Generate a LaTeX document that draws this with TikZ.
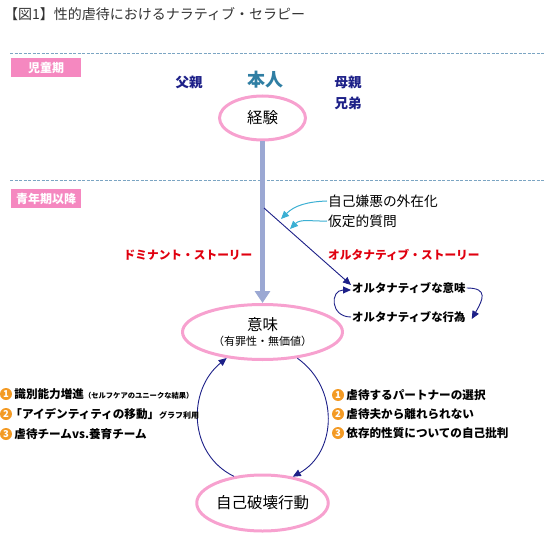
\documentclass[tikz,border=0pt]{standalone}
\usepackage{fontspec}
\setmainfont{Noto Sans CJK JP}
\usetikzlibrary{arrows.meta,positioning,shapes.geometric}
\definecolor{navyline}{HTML}{1D2088}
\definecolor{storyred}{HTML}{E0000F}
\definecolor{ovalpink}{HTML}{F7A1CF}
\definecolor{tagpink}{HTML}{F588C0}
\definecolor{mainblue}{HTML}{9BA8D3}
\definecolor{hintcyan}{HTML}{3BAFD3}
\definecolor{numorange}{HTML}{F39A24}
\definecolor{sepblue}{HTML}{7BA5C3}
\definecolor{selfteal}{HTML}{2F7EA3}
\definecolor{titlegray}{HTML}{333333}
\newcommand\fsz[1]{\fontsize{#1}{#1}\selectfont}
\newcommand\numitem[4]
{
\node[numdot] (#1) at (#2) {#3};
\node[listtext,right=2pt of #1] (#1t) {#4};
}

\begin{document}
\begin{tikzpicture}[x=1pt,y=1pt, line join=round,
  oval/.style={ellipse, draw=ovalpink, line width=3pt, inner sep=0pt, font=\fsz{15.5}},
  periodtag/.style={fill=tagpink, text=white, font=\bfseries\fsz{12}, minimum width=70pt, minimum height=19pt, inner sep=0pt},
  kin/.style={text=navyline, font=\bfseries\fsz{13.5}, inner sep=0pt},
  story/.style={text=storyred, font=\bfseries\fsz{11.7}, inner sep=0pt},
  altline/.style={font=\bfseries\fsz{11.4}, inner sep=1pt},
  hinttext/.style={font=\fsz{13.7}, inner sep=1pt},
  numdot/.style={circle, fill=numorange, text=white, font=\bfseries\fsz{9.5}, inner sep=0pt, minimum size=12pt},
  listtext/.style={font=\bfseries\fsz{11.6}, inner sep=0pt},
  sepline/.style={sepblue, dash pattern=on 3pt off 1.5pt, line width=0.7pt},
  navyarrow/.style={navyline, line width=0.9pt, -{Triangle[length=8pt,width=7pt]}},
  cyanarrow/.style={hintcyan, line width=1pt, -{Triangle[length=8pt,width=7pt]}},
  bigarrow/.style={mainblue, line width=5pt, -{Triangle[length=12pt,width=15pt]}}]
\useasboundingbox (0,0) rectangle (545,-534);
\node[anchor=west, text=titlegray, font=\fsz{14}, inner sep=0pt] (title) at (4,-14) {【図1】性的虐待におけるナラティブ・セラピー};
\draw[sepline] (10,-53) -- (545,-53);
\draw[sepline] (10,-180) -- (545,-180);
\node[periodtag, anchor=west] (child) at (11,-67.5) {児童期};
\node[periodtag, anchor=west] (youth) at (11,-199) {青年期以降};
\node[kin] (father) at (189,-82) {父親};
\node[kin, text=selfteal, font=\bfseries\fsz{18}] (hero) at (265,-80) {本人};
\node[kin] (mother) at (348,-82) {母親};
\node[kin] (siblings) at (348,-103) {兄弟};
\node[oval, minimum width=86pt, minimum height=44pt] (exp) at (262.5,-118) {経験};
\node[oval, minimum width=160pt, minimum height=55pt, align=center] (mean) at (262.5,-332) {意味\\{\fsz{11}（有罪性・無価値）}};
\node[oval, minimum width=124pt, minimum height=56pt] (self) at (262.5,-503) {自己破壊行動};
\draw[bigarrow] (exp) -- (mean);
\node[story] (dom) at (188,-255) {ドミナント・ストーリー};
\node[story, anchor=west] (alt) at (328,-255) {オルタナティブ・ストーリー};
\node[hinttext, anchor=west] (hate) at (327,-201) {自己嫌悪の外在化};
\node[hinttext, anchor=west] (hypo) at (327,-221) {仮定的質問};
\node[altline, anchor=west] (altmean) at (351,-288) {オルタナティブな意味};
\node[altline, anchor=west] (altact) at (351,-317) {オルタナティブな行為};
\coordinate (turn) at (264,-208);
\coordinate (hatetip) at (281,-219);
\coordinate (hypotip) at (290,-229);
\draw[navyarrow] (turn) -- ([yshift=3pt]altmean.west);
\draw[cyanarrow] (hate.west) to[out=182,in=45] (hatetip);
\draw[cyanarrow] (hypo.west) to[out=182,in=45] (hypotip);
\draw[navyarrow] (altact.west) to[out=180,in=180,looseness=2] ([yshift=-2pt]altmean.west);
\draw[navyarrow] (altmean.east) to[out=0,in=60,looseness=1.8] ([xshift=5pt,yshift=-2pt]altact.east);
\draw[navyarrow] (self.137) to[out=154,in=219,looseness=1.1] (mean.216);
\draw[navyarrow] (mean.323) to[out=-35,in=29,looseness=1.1] (self.41);
\numitem{l1}{6,-394}{1}{識別能力増進{\fsz{7.3}（セルフケアのユニークな結果）}}
\numitem{l2}{6,-414}{2}{\kern-4pt「アイデンティティの移動」{\fsz{8}グラフ利用}}
\numitem{l3}{6,-434}{3}{虐待チームvs.養育チーム}
\numitem{r1}{338,-395}{1}{虐待するパートナーの選択}
\numitem{r2}{338,-414}{2}{虐待夫から離れられない}
\numitem{r3}{338,-433}{3}{依存的性質についての自己批判}
\end{tikzpicture}
\end{document}
